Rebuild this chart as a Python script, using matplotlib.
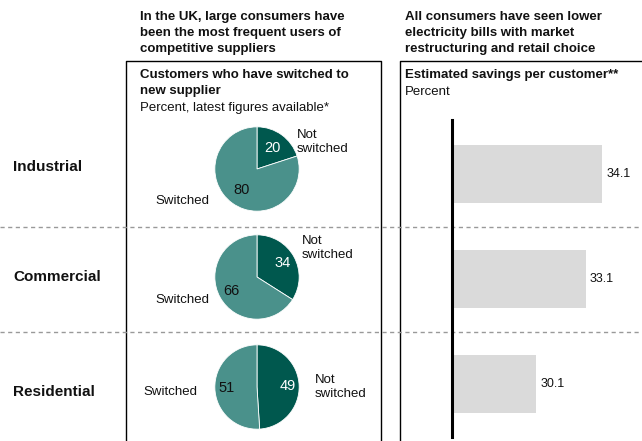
import matplotlib
matplotlib.use("Agg")
import matplotlib.pyplot as plt
import numpy as np

plt.rcParams['font.family'] = ['Liberation Sans', 'DejaVu Sans']

categories = ["Industrial", "Commercial", "Residential"]
not_switched = [20, 34, 49]
switched = [80, 66, 51]
savings = [34.1, 33.1, 30.1]

W, H = 642, 441
fig = plt.figure(figsize=(W / 100, H / 100), dpi=100)

def rect(x, y, w, h):
    return [x / W, 1 - (y + h) / H, w / W, h / H]

# overlay axes in pixel coordinates
ov = fig.add_axes([0, 0, 1, 1])
ov.set_xlim(0, W)
ov.set_ylim(H, 0)
ov.axis("off")

TXT = "#111111"
FS = 9.5
# headers
ov.text(140, 11, "In the UK, large consumers have\nbeen the most frequent users of\ncompetitive suppliers",
        fontsize=FS, fontweight="bold", va="top", ha="left", linespacing=1.42, color=TXT)
ov.text(405, 11, "All consumers have seen lower\nelectricity bills with market\nrestructuring and retail choice",
        fontsize=FS, fontweight="bold", va="top", ha="left", linespacing=1.42, color=TXT)
ov.text(140, 69, "Customers who have switched to\nnew supplier", fontsize=FS, fontweight="bold",
        va="top", ha="left", linespacing=1.4, color=TXT)
ov.text(140, 102, "Percent, latest figures available*", fontsize=FS, va="top", ha="left", color=TXT)
ov.text(405, 69, "Estimated savings per customer**", fontsize=FS, fontweight="bold",
        va="top", ha="left", color=TXT)
ov.text(405, 86, "Percent", fontsize=FS, va="top", ha="left", color=TXT)

# boxes
ov.plot([126, 126, 381, 381], [H + 5, 61, 61, H + 5], color="black", lw=1)
ov.plot([400, 400, W + 5], [H + 5, 61, 61], color="black", lw=1)

# dashed separators
for yy in [227, 332]:
    ov.plot([0, W], [yy, yy], color="#999999", lw=1, ls=(0, (3, 2.5)))

# row labels
row_y = [167, 277, 392]
for lab, yy in zip(categories, row_y):
    ov.text(13, yy, lab, fontsize=11, fontweight="bold", va="center", ha="left", color=TXT)

# pies
dark = "#00584E"
light = "#4A918B"
pie_centers = [(257, 169), (257, 277), (257, 387)]
pct_d = [0.62, 0.7, 0.72]
r = 43
for i, (cx, cy) in enumerate(pie_centers):
    ax = fig.add_axes(rect(cx - r, cy - r, 2 * r, 2 * r))
    vals = [not_switched[i], switched[i]]
    wedges, _ = ax.pie(vals, startangle=90, counterclock=False, colors=[dark, light],
                       radius=1, wedgeprops=dict(linewidth=0.6, edgecolor="white"))
    ax.set_xlim(-1.02, 1.02)
    ax.set_ylim(-1.02, 1.02)
    ax.set_aspect("equal")
    for w, v, col in zip(wedges, vals, ["white", TXT]):
        ang = np.deg2rad((w.theta1 + w.theta2) / 2)
        ax.text(pct_d[i] * np.cos(ang), pct_d[i] * np.sin(ang), str(v), color=col,
                fontsize=10.5, ha="center", va="center")

# outside pie labels
ns_pos = [(297, 142), (302, 248), (315, 387)]
sw_pos = [(155, 201), (155, 300), (143, 392)]
for (x, y) in ns_pos:
    ov.text(x, y, "Not\nswitched", fontsize=9.5, va="center", ha="left", linespacing=1.3, color=TXT)
for (x, y) in sw_pos:
    ov.text(x, y, "Switched", fontsize=9.5, va="center", ha="left", color=TXT)

# bars
bx = fig.add_axes(rect(452, 120, W - 452, 317))
bx.patch.set_alpha(0)
ypos = np.arange(len(categories))
bx.barh(ypos, savings, left=0, height=0.55, color="#DADADA")
bx.set_xlim(25, 25 + (W - 452) / 16.5)
bx.set_ylim(2.505, -0.514)
for s in ["top", "right", "bottom"]:
    bx.spines[s].set_visible(False)
bx.spines["left"].set_linewidth(2.2)
bx.set_xticks([])
bx.set_yticks([])
for yv, v in zip(ypos, savings):
    bx.text(v + 0.25, yv, f"{v:.1f}", va="center", ha="left", fontsize=9, color=TXT)

fig.savefig("out.png", dpi=100)
